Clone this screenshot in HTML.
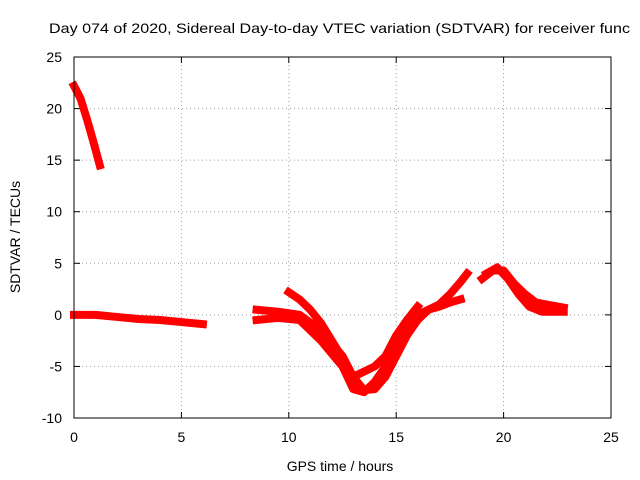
<!DOCTYPE html>
<html><head><meta charset="utf-8"><style>
body{margin:0;background:#fff}
svg{display:block;font-family:"Liberation Sans",sans-serif}
</style></head><body>
<svg id="chart" width="640" height="480" viewBox="0 0 640 480">
<rect width="640" height="480" fill="#fff"/>
<text x="49" y="33" font-size="14" textLength="581" lengthAdjust="spacingAndGlyphs" fill="#000">Day 074 of 2020, Sidereal Day-to-day VTEC variation (SDTVAR) for receiver func</text>
<g id="grid"></g>
<g id="ticks"></g>
<g id="series"></g>
<rect x="74" y="57" width="537" height="361" fill="none" stroke="#000" stroke-width="1"/>
<text x="340" y="471" font-size="14" text-anchor="middle">GPS time / hours</text>
<text transform="translate(20,237) rotate(-90)" font-size="14" text-anchor="middle">SDTVAR / TECUs</text>
</svg>
<script>
const xTicks=[0,5,10,15,20,25];
const yTicks=[-10,-5,0,5,10,15,20,25];
const trace1=[[0,22.2],[0.3,21],[0.6,19],[0.9,16.8],[1.2,14.5]];
const trace2=[[0,0],[1,0],[2,-0.2],[3,-0.4],[4,-0.5],[5,-0.7],[6,-0.9]];
const traceA=[[8.5,0.5],[9.5,0.3],[10.5,0],[11.5,-1.5],[12.5,-4],[13,-6],[13.5,-7.3],[14,-7.2],[14.5,-6],[15,-4],[15.5,-2],[16,-0.5],[16.5,0.5],[17,1],[17.5,2],[18,3.2],[18.3,4]];
const traceB=[[8.5,-0.5],[9.5,-0.3],[10.5,-0.5],[11.5,-2.5],[12.5,-5],[13,-7.2],[13.5,-7.5],[14,-6.5],[14.5,-5],[15,-3],[15.5,-1],[16,0],[16.5,0.5],[17,0.8],[17.5,1.2],[18,1.5]];
const traceC=[[10,2.2],[10.5,1.5],[11,0.5],[11.5,-0.8],[12,-2.5],[12.5,-4.2],[13,-6],[13.5,-5.5],[14,-5],[14.5,-4],[15,-2],[15.5,-0.5],[16,0.8]];
const traceD=[[19,3.5],[19.5,4.3],[20,4.3],[20.5,3],[21,2],[21.5,1.2],[22,1],[22.8,0.7]];
const traceE=[[19.2,4],[19.7,4.6],[20.2,3.5],[20.7,2],[21.2,0.8],[21.8,0.3],[22.8,0.3]];
const traces=[trace1,trace2,traceA,traceB,traceC,traceD,traceE];
const X=v=>74+v*(537/25);
const Y=v=>418-(v+10)*(361/35);
const NS="http://www.w3.org/2000/svg";
const mk=(t,a,p)=>{const e=document.createElementNS(NS,t);for(const k in a)e.setAttribute(k,a[k]);p.appendChild(e);return e;};
const grid=document.getElementById('grid'),ticks=document.getElementById('ticks'),ser=document.getElementById('series');
xTicks.forEach(v=>{
 if(v>0&&v<25){const g=mk('line',{x1:X(v),x2:X(v),y1:57,y2:418,stroke:'#a0a0a0','stroke-dasharray':'1,3'},grid);
 
 }
 const t=mk('text',{x:X(v),y:442,'font-size':14,'text-anchor':'middle'},ticks);t.textContent=v;
 
 
 mk('line',{x1:X(v),x2:X(v),y1:418,y2:412,stroke:'#000'},ticks);
 mk('line',{x1:X(v),x2:X(v),y1:57,y2:63,stroke:'#000'},ticks);
});
yTicks.forEach(v=>{
 if(v>-10&&v<25){const g=mk('line',{x1:74,x2:611,y1:Y(v),y2:Y(v),stroke:'#a0a0a0','stroke-dasharray':'1,3'},grid);
 
 }
 const t=mk('text',{x:62,y:Y(v)+5,'font-size':14,'text-anchor':'end'},ticks);t.textContent=v;
 
 
 mk('line',{x1:74,x2:80,y1:Y(v),y2:Y(v),stroke:'#000'},ticks);
 mk('line',{x1:611,x2:605,y1:Y(v),y2:Y(v),stroke:'#000'},ticks);
});
traces.forEach((tr,i)=>{
 const p=mk('polyline',{points:tr.map(d=>X(d[0])+','+Y(d[1])).join(' '),fill:'none',stroke:'#f00','stroke-width':8,'stroke-linejoin':'round','stroke-linecap':'square'},ser);
 
 
});
</script>
</body></html>
